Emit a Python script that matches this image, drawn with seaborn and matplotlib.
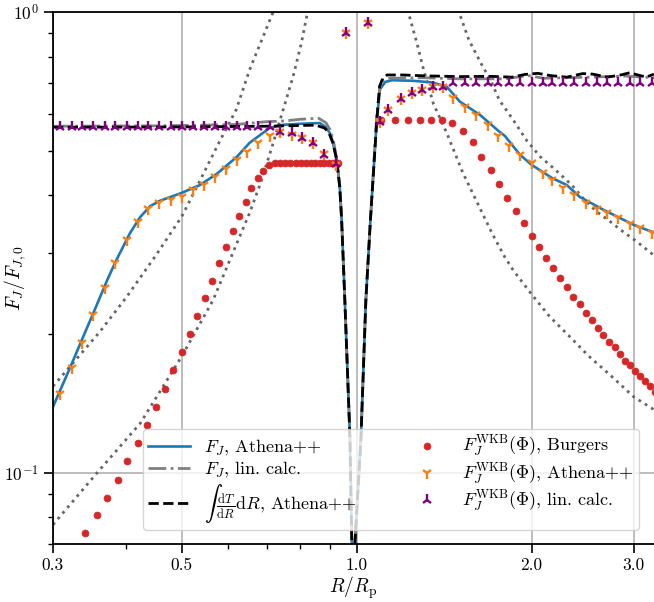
import matplotlib
matplotlib.use("Agg")
import matplotlib.pyplot as plt
import seaborn as sns
from matplotlib.ticker import FixedLocator, NullFormatter, LogLocator

# ---------------- data ----------------
# F_J, Athena++ (blue solid)
blue_x = [0.3, 0.321, 0.338, 0.352, 0.372, 0.386, 0.407, 0.424, 0.441, 0.458, 0.5, 0.537,
          0.574, 0.622, 0.654, 0.708, 0.747, 0.8, 0.864, 0.884, 0.9, 0.91, 0.924, 0.935,
          0.942, 0.954, 0.9736, 0.981, 0.987, 0.993, 1.017, 1.037, 1.056, 1.083, 1.097,
          1.12, 1.15, 1.25, 1.35, 1.43, 1.505, 1.63, 1.76, 1.8, 1.91, 2.0, 2.17, 2.3,
          2.42, 2.66, 3.0, 3.25]
blue_y = [0.139, 0.169, 0.197, 0.222, 0.262, 0.29, 0.331, 0.359, 0.379, 0.389, 0.405, 0.421,
          0.445, 0.485, 0.52, 0.56, 0.569, 0.572, 0.574, 0.563, 0.545, 0.52, 0.477, 0.417,
          0.354, 0.237, 0.119, 0.0697, 0.035, 0.07, 0.119, 0.237, 0.354, 0.583, 0.68,
          0.705, 0.711, 0.709, 0.703, 0.688, 0.639, 0.598, 0.55, 0.538, 0.49, 0.466, 0.436, 0.421,
          0.397, 0.372, 0.345, 0.332]

# F_J, lin. calc. (grey dash-dot)
grey_x = [0.3, 0.45, 0.55, 0.62, 0.7, 0.75, 0.8, 0.86, 0.885, 0.9, 0.912, 0.924, 0.935,
          0.942, 0.954, 0.9736, 0.981, 0.987, 0.993, 1.017, 1.037, 1.056, 1.083, 1.097,
          1.11, 1.14, 1.3, 1.5, 1.8, 1.97, 2.1, 2.5, 2.9, 3.25]
grey_y = [0.565, 0.566, 0.568, 0.57, 0.578, 0.58, 0.585, 0.588, 0.575, 0.555, 0.525, 0.48,
          0.42, 0.356, 0.238, 0.12, 0.07, 0.035, 0.07, 0.119, 0.237, 0.354, 0.6, 0.69,
          0.712, 0.718, 0.72, 0.716, 0.716, 0.728, 0.718, 0.722, 0.726, 0.72]

# integral dT/dR dR, Athena++ (black dashed)
black_x = [0.3, 0.5, 0.7, 0.85, 0.88, 0.895, 0.91, 0.924, 0.935, 0.942, 0.954, 0.9736,
           0.981, 0.987, 0.993, 1.017, 1.037, 1.056, 1.083, 1.095, 1.11, 1.128, 1.2, 1.3,
           1.5, 1.7, 1.85, 1.95, 2.05, 2.15, 2.3, 2.45, 2.55, 2.7, 2.85, 2.95, 3.05, 3.15, 3.25]
black_y = [0.562, 0.563, 0.565, 0.568, 0.56, 0.548, 0.52, 0.477, 0.417, 0.354, 0.237, 0.119,
           0.0697, 0.035, 0.07, 0.119, 0.237, 0.354, 0.583, 0.69, 0.72, 0.73, 0.73, 0.727,
           0.724, 0.725, 0.722, 0.732, 0.736, 0.728, 0.722, 0.735, 0.733, 0.722, 0.73, 0.738,
           0.73, 0.722, 0.733]

# F_J^WKB(Phi), Burgers (red dots)
red_x = [0.340, 0.357, 0.372, 0.388, 0.403, 0.42, 0.435, 0.451, 0.467, 0.483, 0.5, 0.516,
         0.531, 0.548, 0.563, 0.579, 0.595, 0.612, 0.628, 0.644, 0.659, 0.675, 0.69, 0.706,
         0.722, 0.738, 0.754, 0.769, 0.785, 0.801, 0.817, 0.833, 0.848, 0.864, 0.88, 0.896,
         0.912, 0.927,
         1.1, 1.163, 1.226, 1.285, 1.345, 1.404, 1.46, 1.524, 1.585, 1.64, 1.70, 1.758,
         1.818, 1.878, 1.94, 2.0, 2.06, 2.12, 2.18, 2.24, 2.30, 2.36, 2.42, 2.48, 2.54,
         2.60, 2.66, 2.72, 2.78, 2.84, 2.90, 2.955, 3.015, 3.075, 3.14, 3.2, 3.26]
red_y = [0.0741, 0.0809, 0.0883, 0.0964, 0.106, 0.116, 0.127, 0.139, 0.152, 0.167, 0.183, 0.2,
         0.219, 0.24, 0.261, 0.285, 0.309, 0.335, 0.361, 0.386, 0.414, 0.436, 0.452, 0.466,
         0.47, 0.47, 0.47, 0.47, 0.47, 0.47, 0.47, 0.47, 0.47, 0.47, 0.47, 0.47, 0.47, 0.47,
         0.583, 0.583, 0.583, 0.583, 0.583, 0.583, 0.575, 0.552, 0.521, 0.485, 0.454, 0.423,
         0.395, 0.37, 0.348, 0.327, 0.309, 0.293, 0.278, 0.265, 0.253, 0.241, 0.232, 0.222,
         0.214, 0.206, 0.199, 0.192, 0.187, 0.181, 0.175, 0.171, 0.166, 0.162, 0.158, 0.154,
         0.150]

# WKB marker positions (shared by Athena++ and lin. calc.)
wkb_x = [0.295, 0.308, 0.323, 0.336, 0.352, 0.368, 0.384, 0.402, 0.42, 0.438, 0.456, 0.479,
         0.5, 0.523, 0.546, 0.57, 0.596, 0.622, 0.647, 0.676, 0.708, 0.737, 0.773, 0.804,
         0.84, 0.877, 0.92, 0.957, 1.045, 1.095, 1.133, 1.19, 1.245, 1.295, 1.355, 1.41,
         1.465, 1.536, 1.607, 1.68, 1.75, 1.83, 1.91, 2.0, 2.09, 2.17, 2.27, 2.37, 2.48,
         2.59, 2.70, 2.82, 2.95, 3.08, 3.22]
# F_J^WKB(Phi), Athena++ (orange)
orange_y = [0.132, 0.148, 0.169, 0.191, 0.22, 0.252, 0.285, 0.32, 0.35, 0.374, 0.385, 0.391,
            0.397, 0.41, 0.421, 0.438, 0.456, 0.477, 0.497, 0.52, 0.538, 0.549, 0.541, 0.533,
            0.52, 0.492, 0.465, 0.90, 0.947, 0.577, 0.613, 0.646, 0.666, 0.677, 0.686, 0.689,
            0.65, 0.623, 0.598, 0.569, 0.537, 0.512, 0.49, 0.47, 0.447, 0.432, 0.414, 0.401,
            0.384, 0.374, 0.366, 0.357, 0.347, 0.339, 0.332]
# F_J^WKB(Phi), lin. calc. (purple)
purple_y = [0.563, 0.563, 0.563, 0.563, 0.563, 0.563, 0.563, 0.563, 0.563, 0.563, 0.563,
            0.563, 0.563, 0.563, 0.563, 0.563, 0.563, 0.563, 0.563, 0.563, 0.563, 0.549,
            0.545, 0.533, 0.52, 0.49, 0.468, 0.90, 0.947, 0.577, 0.613, 0.646, 0.666, 0.677,
            0.686, 0.689, 0.70, 0.70, 0.70, 0.70, 0.70, 0.70, 0.70, 0.70, 0.70, 0.70, 0.70,
            0.70, 0.70, 0.70, 0.70, 0.70, 0.70, 0.70, 0.70]

# grey dotted reference curves
dot1_x = [0.3, 0.361, 0.402, 0.45, 0.5, 0.537, 0.579, 0.62, 0.654, 0.69, 0.718, 0.73]
dot1_y = [0.154, 0.202, 0.241, 0.295, 0.36, 0.43, 0.52, 0.613, 0.749, 0.884, 1.0, 1.06]
dot2_x = [0.3, 0.357, 0.424, 0.5, 0.566, 0.612, 0.654, 0.683, 0.718, 0.747, 0.777, 0.803,
          0.82, 0.83]
dot2_y = [0.0771, 0.0998, 0.128, 0.179, 0.237, 0.30, 0.366, 0.425, 0.519, 0.613, 0.724,
          0.855, 0.977, 1.05]
dot3_x = [1.215, 1.233, 1.27, 1.30, 1.355, 1.43, 1.524, 1.63, 1.71, 1.798, 1.86, 2.0, 2.15,
          2.34, 2.51, 2.73, 3.0, 3.25]
dot3_y = [1.05, 0.977, 0.855, 0.76, 0.633, 0.545, 0.447, 0.375, 0.331, 0.294, 0.275, 0.244,
          0.218, 0.196, 0.179, 0.163, 0.146, 0.137]
dot4_x = [1.48, 1.50, 1.56, 1.64, 1.70, 1.76, 1.86, 1.96, 2.07, 2.2, 2.35, 2.45, 2.58, 2.73,
          2.87, 3.03, 3.22, 3.26]
dot4_y = [1.05, 1.0, 0.87, 0.77, 0.712, 0.644, 0.583, 0.527, 0.485, 0.454, 0.42, 0.395, 0.37,
          0.351, 0.334, 0.318, 0.299, 0.295]

xticks = [0.3, 0.5, 1.0, 2.0, 3.0]
xticklabels = ["0.3", "0.5", "1.0", "2.0", "3.0"]

# ---------------- style ----------------
plt.rcParams.update({
    "font.family": "serif",
    "font.serif": ["cmr10", "DejaVu Serif"],
    "mathtext.fontset": "cm",
    "axes.formatter.use_mathtext": True,
    "font.size": 12.5,
    "axes.unicode_minus": False,
})

fig = plt.figure(figsize=(6.54, 6.02), dpi=100)
ax = fig.add_axes([53 / 654, 58 / 602, 601 / 654, 532 / 602])
ax.set_xscale("log")
ax.set_yscale("log")

dot_kw = dict(color="0.4", linestyle=":", linewidth=2.0, estimator=None, sort=False, ax=ax)
for dx, dy in [(dot1_x, dot1_y), (dot2_x, dot2_y), (dot3_x, dot3_y), (dot4_x, dot4_y)]:
    sns.lineplot(x=dx, y=dy, **dot_kw)

sns.lineplot(x=blue_x, y=blue_y, color="#1f77b4", linewidth=1.9, estimator=None, sort=False,
             ax=ax, label=r"$F_J$, Athena++")
sns.lineplot(x=grey_x, y=grey_y, color="grey", linestyle="-.", linewidth=2.0, estimator=None,
             sort=False, ax=ax, label=r"$F_J$, lin. calc.")
sns.lineplot(x=black_x, y=black_y, color="black", linestyle="--", linewidth=2.0, estimator=None,
             sort=False, ax=ax,
             label=r"$\int\,\frac{\mathrm{d}T}{\mathrm{d}R}\mathrm{d}R$, Athena++")
sns.lineplot(x=red_x, y=red_y, color="#d62728", linestyle="", marker="o", markersize=5,
             markeredgecolor="#d62728", markeredgewidth=0.5, estimator=None, sort=False, ax=ax,
             label=r"$F_J^{\rm WKB}(\Phi)$, Burgers")
sns.lineplot(x=wkb_x, y=orange_y, color="#ff7f0e", linestyle="", marker="1", markersize=8,
             markeredgecolor="#ff7f0e", markeredgewidth=1.7, estimator=None, sort=False, ax=ax,
             label=r"$F_J^{\rm WKB}(\Phi)$, Athena++")
sns.lineplot(x=wkb_x, y=purple_y, color="purple", linestyle="", marker="2", markersize=8,
             markeredgecolor="purple", markeredgewidth=1.7, estimator=None, sort=False, ax=ax,
             label=r"$F_J^{\rm WKB}(\Phi)$, lin. calc.")

ax.set_xlim(0.3, 3.25)
ax.set_ylim(0.07, 1.0)
ax.xaxis.set_major_locator(FixedLocator(xticks))
ax.set_xticklabels(xticklabels)
ax.xaxis.set_minor_locator(LogLocator(base=10, subs=range(2, 10)))
ax.xaxis.set_minor_formatter(NullFormatter())
ax.yaxis.set_minor_formatter(NullFormatter())

ax.grid(True, which="major", color="#b0b0b0", linewidth=1.2)
ax.spines["right"].set_visible(False)
for s in ["left", "bottom", "top"]:
    ax.spines[s].set_linewidth(1.3)
ax.tick_params(which="major", direction="out", length=6.5, width=1.2, labelsize=12.5)
ax.tick_params(which="minor", direction="out", length=3.3, width=1.0)
ax.tick_params(axis="both", which="both", top=False, right=False)

ax.set_xlabel(r"$R/R_{\mathrm{p}}$", fontsize=14, labelpad=1)
ax.set_ylabel(r"$F_J/F_{J,0}$", fontsize=14)
ax.yaxis.set_label_coords(-0.041, 0.5)

ax.legend(ncol=2, loc="lower left", bbox_to_anchor=(0.1498, 0.0263), borderaxespad=0,
          fontsize=13, framealpha=0.8, handlelength=2.3, columnspacing=2.7,
          labelspacing=0.12, handletextpad=0.8, borderpad=0.3)

fig.savefig("out.png", dpi=100)
